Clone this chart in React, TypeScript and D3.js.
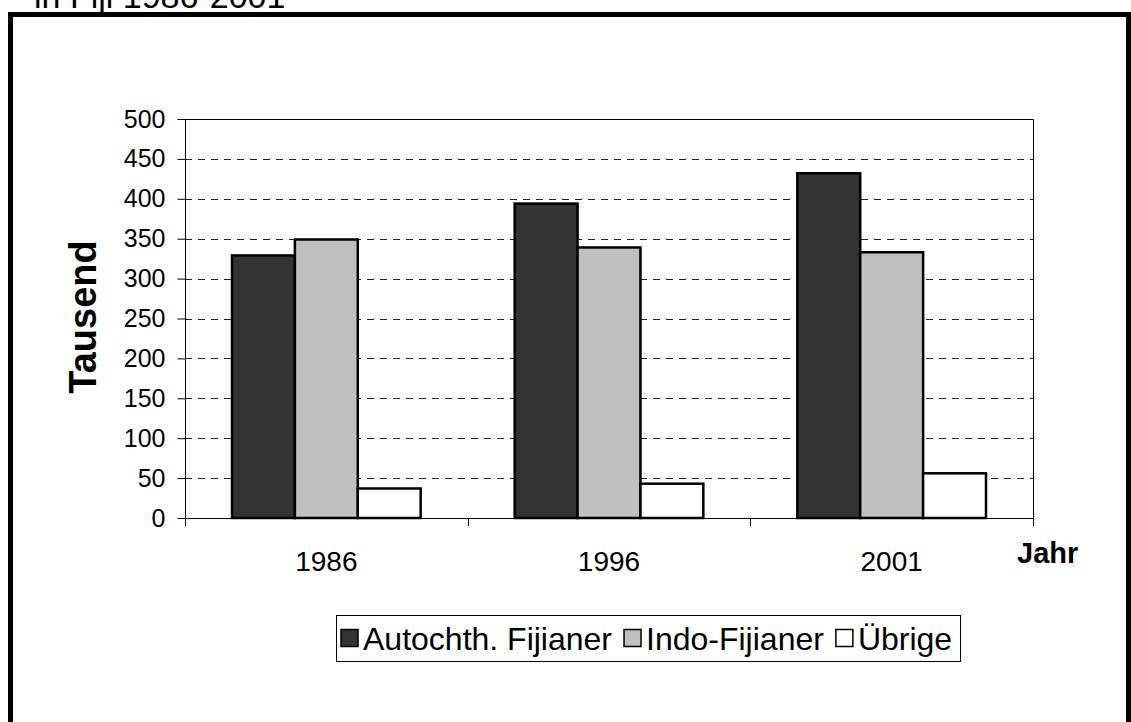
import React, { useEffect, useRef } from 'react';
import * as d3 from 'd3';

// Bevölkerung nach Gruppen, in Tausend
const years = ['1986', '1996', '2001'];
const seriesNames = ['Autochth. Fijianer', 'Indo-Fijianer', 'Übrige'];
const autochthonous = [329, 394, 432];
const indoFijian = [349, 339, 333];
const others = [37, 43, 56];
const yTicks = [0, 50, 100, 150, 200, 250, 300, 350, 400, 450, 500];
const seriesColors = ['#333333', '#c0c0c0', '#ffffff'];

const W = 1131;
const H = 722;
const FONT = '"Liberation Sans", Arial, sans-serif';

const App: React.FC = () => {
    const ref = useRef<HTMLDivElement>(null);

    useEffect(() => {
        const host = d3.select(ref.current);
        host.select('svg').remove();

        const svg = host.append('svg')
            .attr('width', W)
            .attr('height', H)
            .style('position', 'absolute')
            .style('left', 0)
            .style('top', 0)
            .style('font-family', FONT);

        svg.append('rect').attr('width', W).attr('height', H).attr('fill', '#fff');

        // title, cut off above the frame as in the original
        svg.append('text')
            .attr('x', 34)
            .attr('y', 8)
            .style('font-size', '34px')
            .text('in Fiji 1986-2001');

        // outer frame
        svg.append('rect')
            .attr('x', 10.5)
            .attr('y', 14.5)
            .attr('width', 1118)
            .attr('height', 800)
            .attr('fill', '#fff')
            .attr('stroke', '#000')
            .attr('stroke-width', 5);

        const left = 185, right = 1033, top = 119, bottom = 518;

        const x0 = d3.scaleBand().domain(years).range([left, right]);
        const x1 = d3.scaleBand().domain(seriesNames).range([47, x0.bandwidth() - 47]);
        const y = d3.scaleLinear().domain([0, 500]).range([bottom, top]);

        // grid lines
        svg.append('g')
            .selectAll('line')
            .data(yTicks.filter(t => t > 0 && t < 500))
            .enter()
            .append('line')
            .attr('x1', left)
            .attr('x2', right)
            .attr('y1', d => Math.round(y(d)) + 0.5)
            .attr('y2', d => Math.round(y(d)) + 0.5)
            .attr('stroke', '#222')
            .attr('stroke-dasharray', '7,6');

        // plot border top + right
        svg.append('path')
            .attr('d', `M${left},${y(500) + 0.5}H${right + 0.5}V${bottom}`)
            .attr('fill', 'none')
            .attr('stroke', '#000');

        // bars
        const values = [autochthonous, indoFijian, others];
        const table = years.flatMap((yr, i) =>
            seriesNames.map((s, j) => ({ year: yr, series: s, value: values[j][i], color: seriesColors[j] })));

        svg.append('g')
            .selectAll('rect')
            .data(table)
            .enter()
            .append('rect')
            .attr('x', d => x0(d.year)! + x1(d.series)!)
            .attr('y', d => y(d.value))
            .attr('width', x1.bandwidth())
            .attr('height', d => bottom - y(d.value))
            .attr('fill', d => d.color)
            .attr('stroke', '#000')
            .attr('stroke-width', 2.5);

        // y axis
        const yAxis = svg.append('g')
            .attr('transform', `translate(${left + 0.5},0)`)
            .call(d3.axisLeft(y).tickValues(yTicks).tickSize(8).tickPadding(12));
        yAxis.select('.domain').remove();
        yAxis.append('line').attr('y1', top).attr('y2', bottom).attr('stroke', '#000');
        yAxis.selectAll('.tick line').attr('stroke', '#000');
        yAxis.selectAll('.tick text')
            .attr('fill', '#000')
            .style('font-size', '25px')
            .style('font-family', FONT);

        // x axis
        const xAxis = svg.append('g');
        xAxis.append('line')
            .attr('x1', left).attr('x2', right + 1)
            .attr('y1', bottom + 0.5).attr('y2', bottom + 0.5)
            .attr('stroke', '#000');
        const bounds = years.map(yr => x0(yr)!).concat([right]);
        xAxis.selectAll('line.tk')
            .data(bounds)
            .enter()
            .append('line')
            .attr('class', 'tk')
            .attr('x1', d => Math.round(d) + 0.5)
            .attr('x2', d => Math.round(d) + 0.5)
            .attr('y1', bottom)
            .attr('y2', bottom + 8)
            .attr('stroke', '#000');
        xAxis.selectAll('text')
            .data(years)
            .enter()
            .append('text')
            .attr('x', d => x0(d)! + x0.bandwidth() / 2)
            .attr('y', 571)
            .attr('text-anchor', 'middle')
            .style('font-size', '28px')
            .text(d => d);

        // axis titles
        svg.append('text')
            .attr('transform', 'translate(96,317) rotate(-90)')
            .attr('text-anchor', 'middle')
            .style('font-size', '38px')
            .style('font-weight', 'bold')
            .text('Tausend');

        svg.append('text')
            .attr('x', 1017)
            .attr('y', 563)
            .style('font-size', '29px')
            .style('font-weight', 'bold')
            .text('Jahr');

        // legend
        const legend = svg.append('g');
        legend.append('rect')
            .attr('x', 336.5).attr('y', 615.5)
            .attr('width', 624).attr('height', 46)
            .attr('fill', '#fff').attr('stroke', '#000');
        let cx = 341;
        seriesNames.forEach((name, i) => {
            legend.append('rect')
                .attr('x', cx).attr('y', 629.5)
                .attr('width', 17).attr('height', 17)
                .attr('fill', seriesColors[i])
                .attr('stroke', '#000')
                .attr('stroke-width', 1.5);
            const t = legend.append('text')
                .attr('x', cx + 22).attr('y', 650)
                .style('font-size', '32px')
                .text(name);
            const w = (t.node() as SVGTextElement).getComputedTextLength();
            cx += 22 + w + 12;
        });
    }, []);

    return <div id="chart" ref={ref} />;
};

export default App;
